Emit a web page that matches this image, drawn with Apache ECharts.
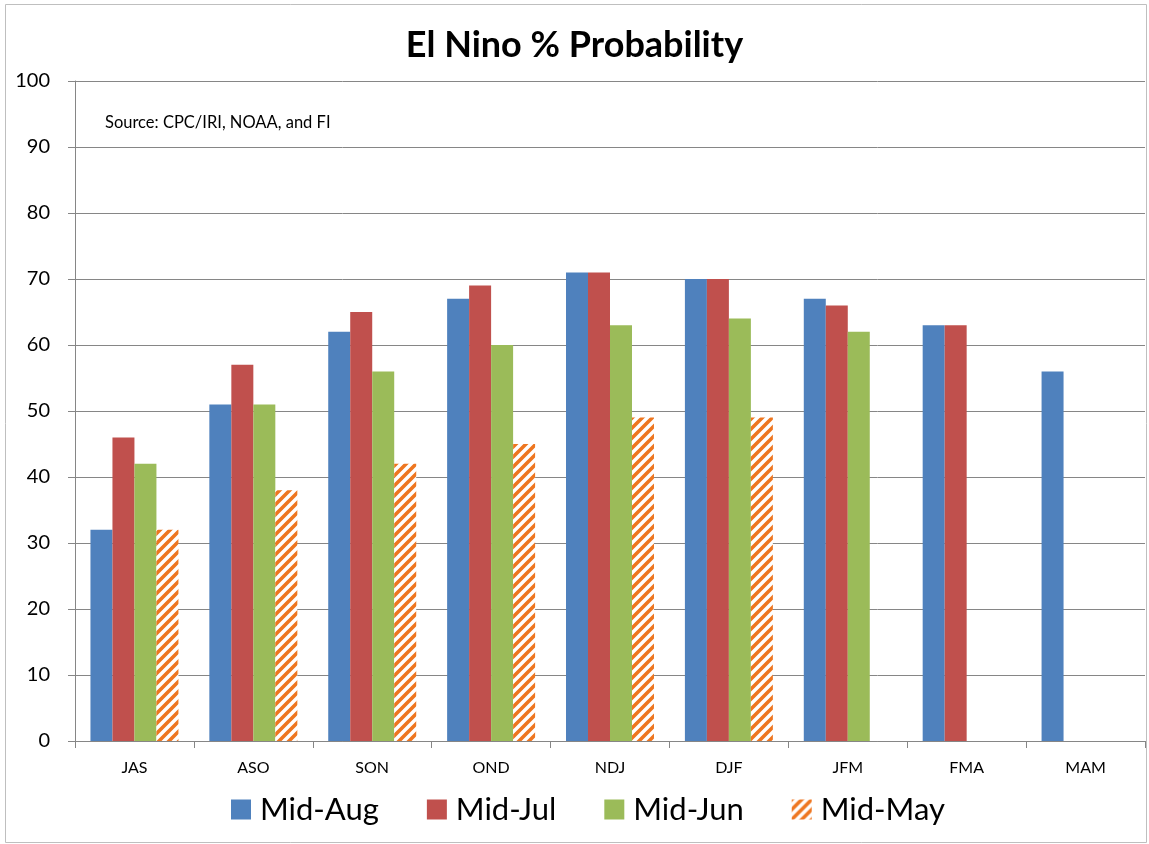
<!DOCTYPE html>
<html><head><meta charset="utf-8">
<script src="https://cdn.jsdelivr.net/npm/echarts@6/dist/echarts.min.js"></script>
<style>html,body{margin:0;padding:0;background:#fff}#c{width:1149px;height:844px}</style>
</head><body><div id="c"></div>
<script>
const categories = ['JAS','ASO','SON','OND','NDJ','DJF','JFM','FMA','MAM'];
const midAug = [32,51,62,67,71,70,67,63,56];
const midJul = [46,57,65,69,71,70,66,63,null];
const midJun = [42,51,56,60,63,64,62,null,null];
const midMay = [32,38,42,45,49,49,null,null,null];
const yTicks = [0,10,20,30,40,50,60,70,80,90,100];

function hatch(){
  const c = document.createElement('canvas');
  c.width = 10; c.height = 10;
  const g = c.getContext('2d');
  g.fillStyle = '#fff'; g.fillRect(0,0,10,10);
  g.strokeStyle = '#EE7620'; g.lineWidth = 3.6;
  g.beginPath();
  g.moveTo(-2,12); g.lineTo(12,-2);
  g.moveTo(-7,7); g.lineTo(7,-7);
  g.moveTo(3,17); g.lineTo(17,3);
  g.stroke();
  return {image:c, repeat:'repeat'};
}
const font = 'Lato, "Open Sans", sans-serif';
const chart = echarts.init(document.getElementById('c'));
function bar(name, data, color){
  return {name, type:'bar', data, barGap:'0%', barCategoryGap:'26%',
    itemStyle:{color}};
}
chart.setOption({
  animation:false,
  textStyle:{fontFamily:font},
  title:{text:'El Nino % Probability', left:'center', top:22,
    textStyle:{fontSize:36, fontWeight:'bold', color:'#000', fontFamily:font}},
  graphic:[
    {type:'rect', shape:{x:5.5,y:4.5,width:1141,height:838}, style:{fill:null, stroke:'#bfbfbf', lineWidth:1}, silent:true},
    {type:'text', left:105, top:114, style:{text:'Source: CPC/IRI, NOAA, and FI', fontSize:16.5, fill:'#000', fontFamily:font}}
  ],
  grid:{left:75, right:4, top:81, bottom:103, containLabel:false},
  legend:{bottom:14, left:226, itemWidth:20, itemHeight:20, itemGap:48,
    textStyle:{fontSize:31, color:'#000', fontFamily:font, padding:[0,0,0,4]},
    data:['Mid-Aug','Mid-Jul','Mid-Jun','Mid-May'], icon:'rect'},
  xAxis:{type:'category', data:categories,
    axisLine:{lineStyle:{color:'#868686'}},
    axisTick:{show:true, length:7, lineStyle:{color:'#868686'}},
    axisLabel:{fontSize:16, color:'#000', margin:19, fontFamily:font}},
  yAxis:{type:'value', min:0, max:100, interval:10,
    axisLine:{show:true, lineStyle:{color:'#868686'}},
    axisTick:{show:true, length:7, lineStyle:{color:'#868686'}},
    splitLine:{lineStyle:{color:'#868686'}},
    axisLabel:{fontSize:20, color:'#000', margin:25, fontFamily:font,
      formatter:v=>yTicks.includes(v)?String(v):''}},
  series:[
    bar('Mid-Aug', midAug, '#4F81BD'),
    bar('Mid-Jul', midJul, '#C0504D'),
    bar('Mid-Jun', midJun, '#9BBB59'),
    bar('Mid-May', midMay, hatch())
  ]
});
</script></body></html>
